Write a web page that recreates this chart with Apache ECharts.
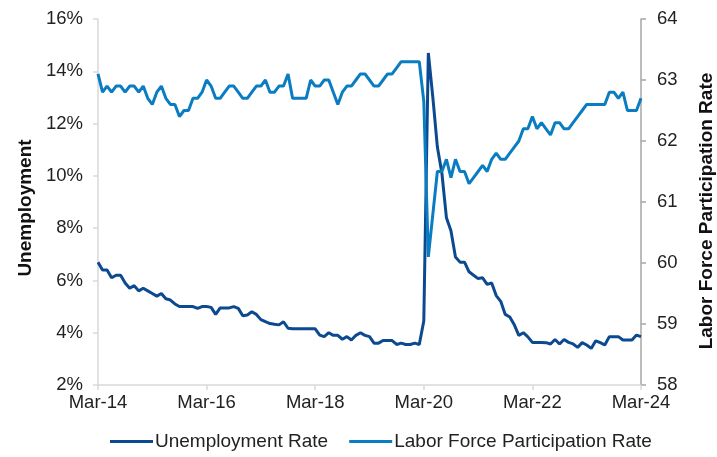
<!DOCTYPE html>
<html>
<head>
<meta charset="utf-8">
<script src="https://cdn.jsdelivr.net/npm/echarts@6/dist/echarts.min.js"></script>
<style>
html,body{margin:0;padding:0;background:#fff;}
#chart{width:717px;height:457px;}
</style>
</head>
<body>
<div id="chart"></div>
<script>
// Monthly, Mar-2014 .. Mar-2024
const startYear = 2014, startMonth = 2; // March (0-based)
const monthNames = ["Jan","Feb","Mar","Apr","May","Jun","Jul","Aug","Sep","Oct","Nov","Dec"];
const tickLabels = ["Mar-14","Mar-16","Mar-18","Mar-20","Mar-22","Mar-24"];

const unemploymentRate = [
  6.7, 6.4, 6.4, 6.1, 6.2, 6.2, 5.9, 5.7, 5.8, 5.6, 5.7, 5.6,
  5.5, 5.4, 5.5, 5.3, 5.25, 5.1, 5.0, 5.0, 5.0, 5.0, 4.93, 5.0,
  5.0, 4.97, 4.7, 4.95, 4.95, 4.95, 5.0, 4.93, 4.65, 4.68, 4.8, 4.7,
  4.5, 4.42, 4.35, 4.32, 4.3, 4.42, 4.17, 4.15, 4.15, 4.15, 4.15, 4.15,
  4.15, 3.91, 3.85, 4.0, 3.9, 3.9, 3.75, 3.85, 3.72, 3.9, 4.0, 3.9,
  3.85, 3.6, 3.6, 3.7, 3.7, 3.7, 3.55, 3.6, 3.55, 3.55, 3.6, 3.55,
  4.45, 14.7, 13.0, 11.1, 10.1, 8.4, 7.9, 6.9, 6.7, 6.7, 6.33, 6.2,
  6.07, 6.1, 5.85, 5.9, 5.42, 5.2, 4.7, 4.6, 4.3, 3.9, 4.0, 3.84,
  3.63, 3.63, 3.63, 3.62, 3.57, 3.74, 3.57, 3.74, 3.63, 3.57, 3.44, 3.62,
  3.53, 3.4, 3.69, 3.62, 3.53, 3.85, 3.85, 3.85, 3.72, 3.72, 3.72, 3.91,
  3.85
];

const participationRate = [
  63.1, 62.8, 62.9, 62.8, 62.9, 62.9, 62.8, 62.9, 62.9, 62.8, 62.9, 62.7,
  62.6, 62.8, 62.9, 62.7, 62.6, 62.6, 62.4, 62.5, 62.5, 62.7, 62.7, 62.8,
  63.0, 62.9, 62.7, 62.7, 62.8, 62.9, 62.9, 62.8, 62.7, 62.7, 62.8, 62.9,
  62.9, 63.0, 62.8, 62.8, 62.9, 62.9, 63.1, 62.7, 62.7, 62.7, 62.7, 63.0,
  62.9, 62.9, 63.0, 63.0, 62.8, 62.6, 62.8, 62.9, 62.9, 63.0, 63.1, 63.1,
  63.0, 62.9, 62.9, 63.0, 63.1, 63.1, 63.2, 63.3, 63.3, 63.3, 63.3, 63.3,
  62.65, 60.1, 60.8, 61.5, 61.5, 61.7, 61.4, 61.7, 61.5, 61.5, 61.3, 61.4,
  61.5, 61.6, 61.5, 61.7, 61.8, 61.7, 61.7, 61.8, 61.9, 62.0, 62.2, 62.2,
  62.4, 62.2, 62.3, 62.2, 62.1, 62.3, 62.3, 62.2, 62.2, 62.3, 62.4, 62.5,
  62.6, 62.6, 62.6, 62.6, 62.6, 62.8, 62.8, 62.7, 62.8, 62.5, 62.5, 62.5,
  62.7
];

const categories = unemploymentRate.map((_, i) => {
  const m = startMonth + i;
  const y = startYear + Math.floor(m / 12);
  return monthNames[m % 12] + "-" + String(y % 100).padStart(2, "0");
});

const FONT = "'Liberation Sans', Arial, sans-serif";
const DARK = "#0b4a90";
const LIGHT = "#0a7dc2";

const chart = echarts.init(document.getElementById('chart'), null, {renderer: 'canvas'});
chart.setOption({
  animation: false,
  backgroundColor: '#ffffff',
  textStyle: {fontFamily: FONT},
  grid: {left: 98, right: 76, top: 19, bottom: 72, containLabel: false, outerBoundsMode: 'none'},
  legend: {
    bottom: 1,
    left: 105,
    itemWidth: 43,
    itemHeight: 3,
    itemGap: 21,
    icon: 'rect',
    textStyle: {fontFamily: FONT, fontSize: 19, color: '#222', padding: [0, 0, 0, -3]},
    data: ["Unemployment Rate", "Labor Force Participation Rate"]
  },
  xAxis: {
    type: 'category',
    data: categories,
    boundaryGap: false,
    axisLine: {show: true, lineStyle: {color: '#d9d9d9', width: 1.5}},
    axisTick: {show: true, interval: 23, length: 5, lineStyle: {color: '#d9d9d9', width: 1.5}},
    axisLabel: {
      interval: 23,
      fontSize: 18.5, color: '#222', fontFamily: FONT, margin: 8,
      formatter: v => tickLabels.includes(v) ? v : ''
    },
    splitLine: {show: false}
  },
  yAxis: [
    {
      type: 'value', min: 2, max: 16, interval: 2, position: 'left',
      name: 'Unemployment', nameLocation: 'middle', nameRotate: 90, nameGap: 58,
      nameTextStyle: {fontFamily: FONT, fontSize: 19, fontWeight: 'bold', color: '#111', padding: [0, 12, 0, 0]},
      axisLine: {show: true, lineStyle: {color: '#d9d9d9', width: 1.5}},
      axisTick: {show: true, length: 5, lineStyle: {color: '#d9d9d9', width: 1.5}},
      axisLabel: {formatter: '{value}%', fontSize: 18.5, color: '#222', fontFamily: FONT, margin: 15},
      splitLine: {show: false}
    },
    {
      type: 'value', min: 58, max: 64, interval: 1, position: 'right',
      name: 'Labor Force Participation Rate', nameLocation: 'middle', nameRotate: 90, nameGap: 56,
      nameTextStyle: {fontFamily: FONT, fontSize: 19, fontWeight: 'bold', color: '#111', padding: [0, 18, 0, 0]},
      axisLine: {show: true, lineStyle: {color: '#a6a6a6', width: 1.5}},
      axisTick: {show: true, length: 5, lineStyle: {color: '#a6a6a6', width: 1.5}},
      axisLabel: {fontSize: 18.5, color: '#222', fontFamily: FONT, margin: 16},
      splitLine: {show: false}
    }
  ],
  series: [
    {
      name: "Unemployment Rate", type: 'line', yAxisIndex: 0,
      data: unemploymentRate, showSymbol: false, symbol: 'none',
      lineStyle: {color: DARK, width: 3}, itemStyle: {color: DARK}
    },
    {
      name: "Labor Force Participation Rate", type: 'line', yAxisIndex: 1,
      data: participationRate, showSymbol: false, symbol: 'none',
      lineStyle: {color: LIGHT, width: 3}, itemStyle: {color: LIGHT}
    }
  ]
});
</script>
</body>
</html>
